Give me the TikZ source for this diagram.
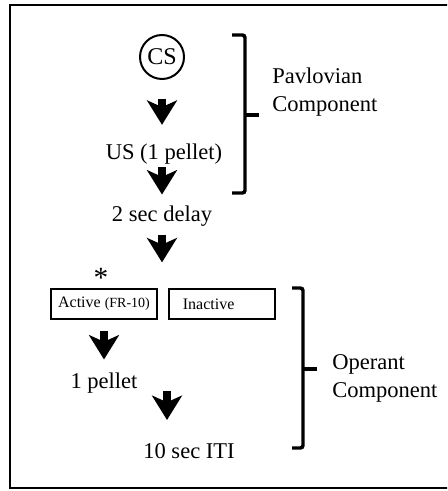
\documentclass[tikz,border=0pt]{standalone}
\usepackage{fontspec}
\setmainfont{Liberation Serif}
\usetikzlibrary{arrows.meta,calc}

\newcommand{\lblfont}{\fontsize{16.9}{21}\selectfont}
\newcommand{\boxfont}{\fontsize{12}{14}\selectfont}
\newcommand{\frfont}{\fontsize{10.5}{12}\selectfont}

\begin{document}
\begin{tikzpicture}
        [x=0.75pt, y=-0.75pt,
        lbl/.style={font=\lblfont, inner sep=0pt},
        cue/.style={circle, draw, line width=1.5pt, minimum size=33pt, inner sep=0pt, font=\fontsize{18}{20}\selectfont},
        lever/.style={draw, line width=2pt, minimum width=79.5pt, minimum height=22.5pt, inner sep=0pt, font=\boxfont},
        flow/.style={line width=6.5pt, -{Stealth[length=18.5pt, width=23pt, inset=5.25pt, line width=0pt]}},
        brace/.style={line width=2.6pt, rounded corners=2pt},
        frame/.style={line width=2pt}]

        \useasboundingbox (0,0) rectangle (447,491);
        \clip (0,0) rectangle (447,491);
        \draw[frame] (10,5) rectangle (470,488);

        \node[cue] (cs) at (162,57) {CS};
        \node[lbl, anchor=base] (us) at (164,160) {US (1 pellet)};
        \node[lbl, anchor=base] (delay) at (162,222) {2 sec delay};

        \node[lever] (active) at (104,304) {Active {\frfont (FR-10)}};
        \node[lever] (inactive) at (222,304) {\hbox{Inactive\kern 20pt}};
        \node[anchor=base, inner sep=0pt, font=\fontsize{22}{24}\selectfont] (star) at (101,287) {*};

        \node[lbl, anchor=base] (pellet) at (104,388) {1 pellet};
        \node[lbl, anchor=base] (iti) at (189,458) {10 sec ITI};

        \node[lbl, anchor=north west, align=left] (pav) at (272,67.6) {Pavlovian\\Component};
        \node[lbl, anchor=north west, align=left] (oper) at (332,354.7) {Operant\\Component};

        % flow arrows
        \draw[flow, shorten <=14.25pt, shorten >=14.5pt] (cs) -- (cs |- us.north);
        \draw[flow, shorten <=1.5pt, shorten >=8.7pt] (cs |- us.south) -- (delay);
        \draw[flow, shorten <=6pt, shorten >=19pt] (delay) -- (delay |- active.north);
        \draw[flow, shorten <=8.25pt, shorten >=9.5pt] (active) -- (pellet);
        \draw[flow, shorten <=-1.5pt, shorten >=17.1pt] ([xshift=47.25pt]pellet.south) -- ([xshift=-16.5pt]iti.north);

        % brackets
        \draw[brace] (232,35) -- (245,35) -- (245,193) -- (232,193);
        \draw[brace] (245,115) -- (259,115);
        \draw[brace] (292,288) -- (303,288) -- (303,448) -- (292,448);
        \draw[brace] (303,369) -- (317,369);

    \end{tikzpicture}
\end{document}
